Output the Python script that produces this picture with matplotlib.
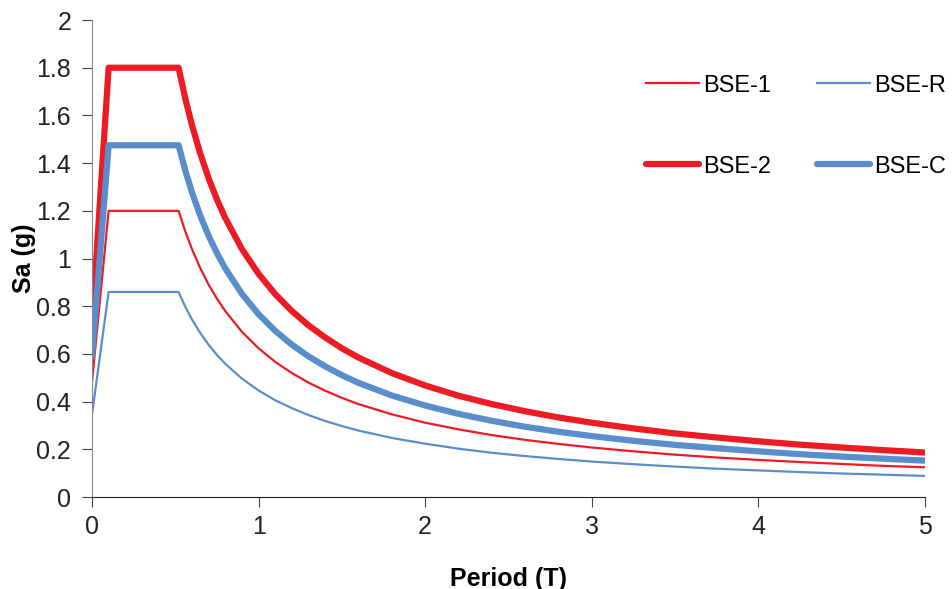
import matplotlib.pyplot as plt

plt.rcParams['font.family'] = ['Liberation Sans', 'DejaVu Sans']

# periods (s) and spectral accelerations (g)
period = [0, 0.1, 0.52, 0.56, 0.6, 0.65, 0.7, 0.75, 0.8, 0.9, 1.0, 1.1, 1.2,
          1.3, 1.4, 1.5, 1.6, 1.8, 2.0, 2.2, 2.4, 2.6, 2.8, 3.0, 3.25, 3.5,
          3.75, 4.0, 4.25, 4.5, 4.75, 5.0]
bse_1 = [0.48, 1.2, 1.2, 1.114, 1.04, 0.96, 0.891, 0.832, 0.78, 0.693, 0.624,
         0.567, 0.52, 0.48, 0.446, 0.416, 0.39, 0.347, 0.312, 0.284, 0.26,
         0.24, 0.223, 0.208, 0.192, 0.178, 0.166, 0.156, 0.147, 0.139, 0.131,
         0.125]
bse_2 = [0.72, 1.8, 1.8, 1.671, 1.56, 1.44, 1.337, 1.248, 1.17, 1.04, 0.936,
         0.851, 0.78, 0.72, 0.669, 0.624, 0.585, 0.52, 0.468, 0.425, 0.39,
         0.36, 0.334, 0.312, 0.288, 0.267, 0.25, 0.234, 0.22, 0.208, 0.197,
         0.187]
bse_r = [0.345, 0.86, 0.86, 0.798, 0.745, 0.688, 0.639, 0.596, 0.559, 0.497,
         0.447, 0.406, 0.373, 0.344, 0.319, 0.298, 0.279, 0.248, 0.224, 0.203,
         0.186, 0.172, 0.16, 0.149, 0.138, 0.128, 0.119, 0.112, 0.105, 0.099,
         0.094, 0.089]
bse_c = [0.59, 1.475, 1.475, 1.37, 1.278, 1.18, 1.096, 1.023, 0.959, 0.852,
         0.767, 0.697, 0.639, 0.59, 0.548, 0.511, 0.479, 0.426, 0.384, 0.349,
         0.32, 0.295, 0.274, 0.256, 0.236, 0.219, 0.205, 0.192, 0.18, 0.17,
         0.161, 0.153]

red = '#ED1C24'
blue = '#5A8DCB'

fig = plt.figure(figsize=(9.52, 5.89), dpi=100)
ax = fig.add_axes([0.0966, 0.156, 0.875, 0.81])

thin = dict(lw=1.6, solid_joinstyle='round')
thick = dict(lw=4.5, solid_joinstyle='round', solid_capstyle='round')
ax.plot(period, bse_1, color=red, label='BSE-1', **thin)
ax.plot(period, bse_2, color=red, label='BSE-2', **thick)
ax.plot(period, bse_r, color=blue, label='BSE-R', **thin)
ax.plot(period, bse_c, color=blue, label='BSE-C', **thick)

ax.set_xlim(0, 5)
ax.set_ylim(0, 2)
ax.set_xticks(range(6))
ax.set_yticks([i * 0.2 for i in range(11)])
ax.set_yticklabels(['0', '0.2', '0.4', '0.6', '0.8', '1', '1.2', '1.4',
                    '1.6', '1.8', '2'])

for s in ['top', 'right']:
    ax.spines[s].set_visible(False)
ax.spines['left'].set_color('#888888')
ax.spines['bottom'].set_color('#222222')
ax.tick_params(axis='both', labelsize=18, length=7, color='#444444',
               labelcolor='#222222')
ax.tick_params(axis='y', pad=8)
ax.tick_params(axis='x', pad=6)

ax.set_xlabel('Period (T)', fontsize=18, fontweight='bold', labelpad=20)
ax.set_ylabel('Sa (g)', fontsize=18, fontweight='bold', labelpad=0)

ax.legend(loc='upper left', bbox_to_anchor=(0.640, 0.93), ncol=2, frameon=False,
          fontsize=17, labelspacing=2.5, handlelength=2.25, handletextpad=0.15,
          columnspacing=1.95)

fig.savefig('out.png', dpi=100)
